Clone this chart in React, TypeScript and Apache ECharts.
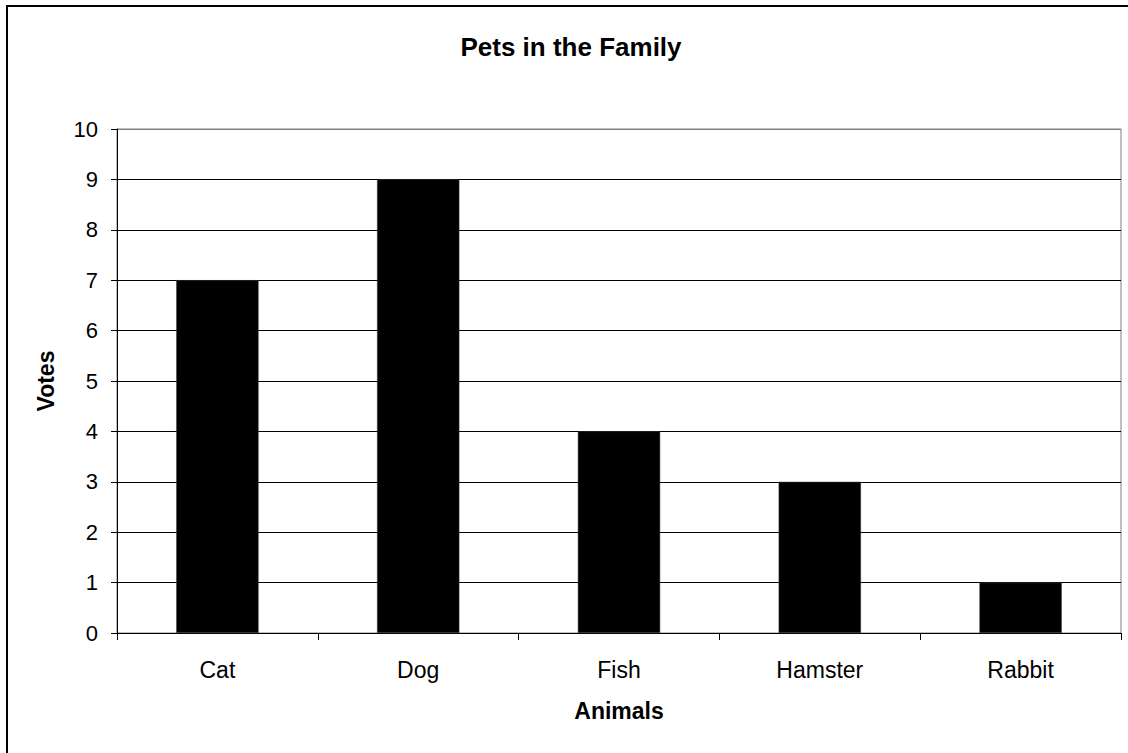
import React, { useEffect, useRef } from "react";
import * as echarts from "echarts";

const categories = ["Cat", "Dog", "Fish", "Hamster", "Rabbit"];
const votes = [7, 9, 4, 3, 1];
const chartTitle = "Pets in the Family";
const xName = "Animals";
const yName = "Votes";

const FONT = "'Liberation Sans', Arial, sans-serif";

export default function App() {
  const ref = useRef<HTMLDivElement>(null);
  useEffect(() => {
    if (!ref.current) return;
    const chart = echarts.init(ref.current, null, { renderer: "svg" });
    const splitColors = Array.from({ length: 11 }, (_, i) => (i === 10 ? "#808080" : "#000000"));
    chart.setOption({
      animation: false,
      backgroundColor: "#ffffff",
      textStyle: { fontFamily: FONT },
      grid: {
        left: 117,
        top: 129,
        right: 7,
        bottom: 120,
        show: true,
        borderColor: "#808080",
        borderWidth: 1,
        backgroundColor: "transparent",
      },
      xAxis: {
        type: "category",
        data: categories,
        name: xName,
        nameLocation: "middle",
        nameGap: 66,
        nameTextStyle: { fontFamily: FONT, fontSize: 23, fontWeight: "bold", color: "#000" },
        axisLine: { lineStyle: { color: "#000", width: 1 } },
        axisTick: { show: true, length: 7, inside: false, lineStyle: { color: "#000" } },
        axisLabel: { fontFamily: FONT, fontSize: 23, color: "#000", margin: 25 },
        splitLine: { show: false },
      },
      yAxis: {
        type: "value",
        min: 0,
        max: 10,
        interval: 1,
        name: yName,
        nameLocation: "middle",
        nameGap: 60,
        nameRotate: 90,
        nameTextStyle: { fontFamily: FONT, fontSize: 23, fontWeight: "bold", color: "#000" },
        axisLine: { show: true, lineStyle: { color: "#000", width: 1 } },
        axisTick: { show: true, length: 6, inside: false, lineStyle: { color: "#000" } },
        axisLabel: { fontFamily: FONT, fontSize: 22, color: "#000", margin: 19 },
        splitLine: { show: true, lineStyle: { color: splitColors, width: 1 } },
      },
      series: [
        {
          type: "bar",
          data: votes,
          barWidth: "41%",
          itemStyle: { color: "#000000", borderColor: "#404040", borderWidth: 0.5 },
        },
      ],
      graphic: [
        {
          type: "text",
          x: 571,
          y: 46.5,
          style: {
            text: chartTitle,
            fontFamily: FONT,
            fontSize: 26,
            fontWeight: "bold",
            fill: "#000",
            textAlign: "center",
            textVerticalAlign: "middle",
          },
          silent: true,
        },
        {
          type: "rect",
          shape: { x: 7, y: 6, width: 1140, height: 770 },
          style: { fill: "none", stroke: "#000", lineWidth: 2 },
          silent: true,
          z: 100,
        },
      ],
    });
    return () => chart.dispose();
  }, []);
  return (
    <div
      ref={ref}
      style={{ position: "fixed", left: 0, top: 0, width: 1128, height: 753 }}
    />
  );
}
